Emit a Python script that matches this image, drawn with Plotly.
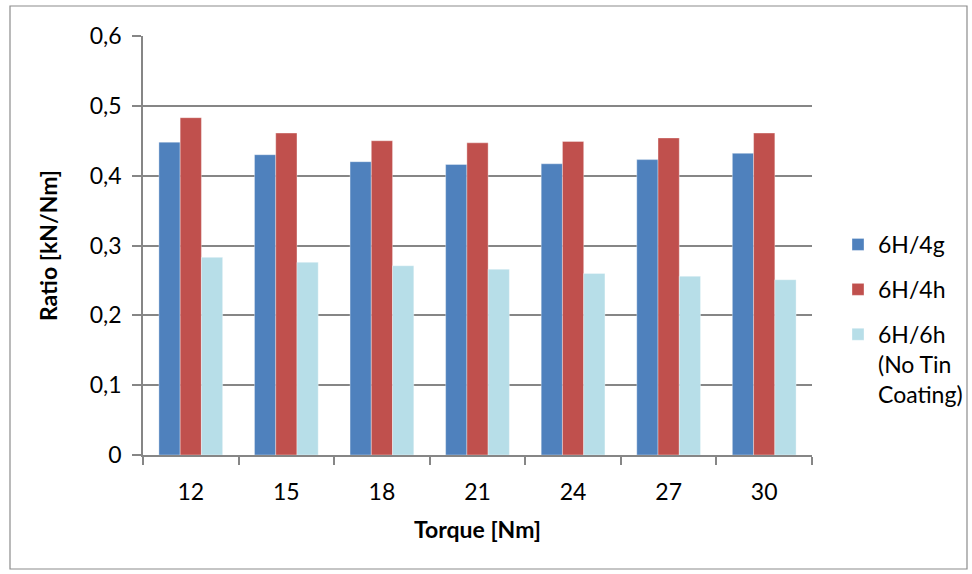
import plotly.graph_objects as go

# Torque steps (Nm) and load-to-torque ratio (kN/Nm) for each thread fit
torque = ["12", "15", "18", "21", "24", "27", "30"]
ratio_6h_4g = [0.448, 0.430, 0.420, 0.416, 0.417, 0.423, 0.432]
ratio_6h_4h = [0.483, 0.461, 0.450, 0.447, 0.449, 0.454, 0.461]
ratio_6h_6h = [0.283, 0.276, 0.271, 0.266, 0.260, 0.256, 0.251]

series_names = ["6H/4g", "6H/4h", "6H/6h<br>(No Tin<br>Coating)"]
series_colors = ["#4F81BD", "#C0504D", "#B7DEE8"]

y_tick_vals = [0, 0.1, 0.2, 0.3, 0.4, 0.5, 0.6]
y_tick_text = ["0", "0,1", "0,2", "0,3", "0,4", "0,5", "0,6"]

FONT = "Lato, Carlito, 'Open Sans', sans-serif"
GRID = "#868686"

fig = go.Figure()
for name, vals, color in zip(series_names,
                             [ratio_6h_4g, ratio_6h_4h, ratio_6h_6h],
                             series_colors):
    fig.add_trace(go.Bar(
        x=torque, y=vals, name=name, legendgroup=name,
        marker=dict(color=color, line=dict(color="rgba(255,255,255,0.35)", width=1)),
    ))

# plot area in pixels: x 143..812, y 36..455
L, R, T, B = 143, 160, 36, 119
W, H = 972, 574
pw, ph = W - L - R, H - T - B

def px_x(x):
    return (x - L) / pw

def px_y(y):
    return (H - B - y) / ph

fig.update_layout(
    width=W, height=H,
    margin=dict(l=L, r=R, t=T, b=B, pad=0, autoexpand=False),
    paper_bgcolor="white", plot_bgcolor="white",
    font=dict(family=FONT, size=23, color="black"),
    barmode="group", bargap=0.333, bargroupgap=0,
    showlegend=True,
    legend=dict(
        xref="container", yref="container",
        x=838 / W, y=1 - 223 / H, xanchor="left", yanchor="top",
        font=dict(size=23), valign="top",
        tracegroupgap=12, itemwidth=30,
        bgcolor="rgba(0,0,0,0)",
    ),
    shapes=[dict(
        type="rect", xref="paper", yref="paper",
        x0=px_x(10), x1=px_x(967), y0=px_y(569), y1=px_y(6),
        line=dict(color="#8c8c8c", width=1.2), fillcolor="rgba(0,0,0,0)",
        layer="below",
    )],
)

fig.update_xaxes(
    type="category", tickson="boundaries",
    ticks="outside", ticklen=8, tickcolor=GRID, tickwidth=1.5,
    showline=True, linecolor=GRID, linewidth=1.5,
    showgrid=False, ticklabelstandoff=16,
    title=dict(text="<b>Torque [Nm]</b>", standoff=18, font=dict(size=23)),
)
fig.update_yaxes(
    range=[0, 0.6], tickvals=y_tick_vals, ticktext=y_tick_text,
    ticks="outside", ticklen=9, tickcolor=GRID, tickwidth=1.5,
    showline=True, linecolor=GRID, linewidth=1.5,
    showgrid=True, gridcolor=GRID, gridwidth=1.5, zeroline=False,
    ticklabelstandoff=6,
    title=dict(text="<b>Ratio [kN/Nm]</b>", standoff=26, font=dict(size=23)),
)

fig.write_html("out.html")
